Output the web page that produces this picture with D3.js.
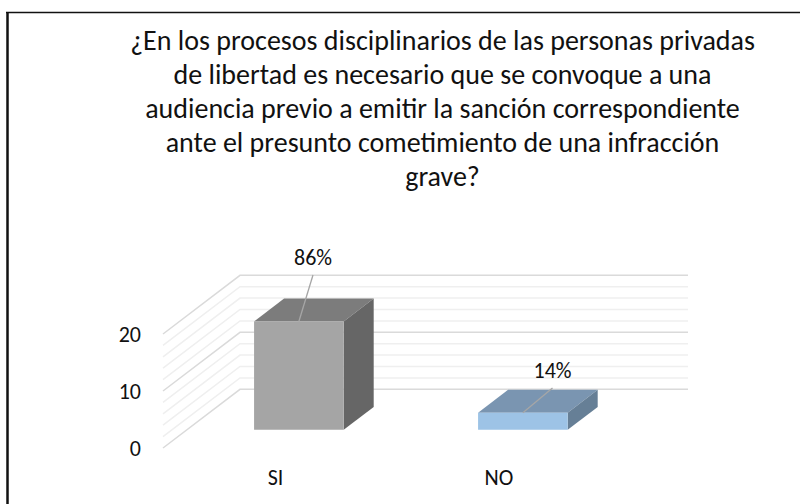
<!DOCTYPE html>
<html><head><meta charset="utf-8">
<script src="https://cdn.jsdelivr.net/npm/d3@7"></script>
<style>html,body{margin:0;background:#fff}svg{display:block}text{font-family:Carlito,Lato,"Open Sans",sans-serif;fill:#111}</style>
</head><body><div id="c"></div>
<script>
const categories = ["SI","NO"];
const values = [19,3];
const labels = ["86%","14%"];
const frontColors = ["#a5a5a5","#9dc3e6"];
const topColors = ["#7c7c7c","#7a95b1"];
const sideColors = ["#666666","#667f96"];
const yTicks = [0,10,20];
const gridValues = [0,2,4,6,8,10,12,14,16,18,20];
const titleLines = ["¿En los procesos disciplinarios de las personas privadas","de libertad es necesario que se convoque a una","audiencia previo a emitir la sanción correspondiente","ante el presunto cometimiento de una infracción","grave?"];

const W=800,H=504;
const svg=d3.select("#c").append("svg").attr("width",W).attr("height",H);
svg.append("line").attr("x1",6).attr("x2",W).attr("y1",12.5).attr("y2",12.5).attr("stroke","#111").attr("stroke-width",1.5);
svg.append("line").attr("x1",7.5).attr("x2",7.5).attr("y1",12).attr("y2",H).attr("stroke","#111").attr("stroke-width",2.5);

const y=d3.scaleLinear().domain([0,20]).range([0,-114]);
const depthX=d3.scaleLinear().domain([0,1]).range([163,240]);
const depthY=d3.scaleLinear().domain([0,1]).range([448,389.3]);
const wallWidth=448;
const x=d3.scaleBand().domain(categories).range([0,wallWidth]).paddingInner(0.6).paddingOuter(0.3);
const px=(u,d,v)=>[depthX(d)+u,depthY(d)+y(v)];
const line=d3.line();

svg.append("g").selectAll("path").data(gridValues).join("path")
 .attr("fill","none").attr("stroke",d=>d%10===0?"#dadada":"#efefef").attr("stroke-width",1.5)
 .attr("d",v=>line([px(0,0,v),px(0,1,v),px(wallWidth,1,v)]));

const dFront=0.31,dBack=0.70;
const leaderEndX=[313,552.5], leaderEndY=[275,388];
svg.append("g").selectAll("g").data(categories).join("g").each(function(c,i){
  const s=d3.select(this),v=values[i],L=x(c),R=L+x.bandwidth();
  s.append("path").attr("fill",topColors[i]).attr("d",line([px(L,dFront,v),px(R,dFront,v),px(R,dBack,v),px(L,dBack,v)])+"Z");
  s.append("path").attr("fill",sideColors[i]).attr("d",line([px(R,dFront,0),px(R,dFront,v),px(R,dBack,v),px(R,dBack,0)])+"Z");
  s.append("path").attr("fill",frontColors[i]).attr("d",line([px(L,dFront,0),px(R,dFront,0),px(R,dFront,v),px(L,dFront,v)])+"Z");
  const [fx,fy]=px(L+x.bandwidth()/2,dFront,v);
  s.append("line").attr("x1",fx).attr("y1",fy).attr("x2",leaderEndX[i]).attr("y2",leaderEndY[i]).attr("stroke","#a6a6a6").attr("stroke-width",1.3);
  s.append("text").attr("x",leaderEndX[i]).attr("y",leaderEndY[i]-10.5).attr("text-anchor","middle").attr("font-size",22).text(labels[i]);
});

svg.append("g").selectAll("text").data(yTicks).join("text")
 .attr("x",141).attr("y",v=>px(0,0,v)[1]+7.5).attr("text-anchor","end").attr("font-size",22).text(d=>d);
svg.append("g").selectAll("text").data(categories).join("text")
 .attr("x",(d,i)=>[275.5,499][i]).attr("y",485).attr("text-anchor","middle").attr("font-size",22).text(d=>d);
svg.append("g").selectAll("text").data(titleLines).join("text")
 .attr("x",442.5).attr("y",(d,i)=>49.5+i*34.2).attr("text-anchor","middle").attr("font-size",28).text(d=>d);
</script></body></html>
